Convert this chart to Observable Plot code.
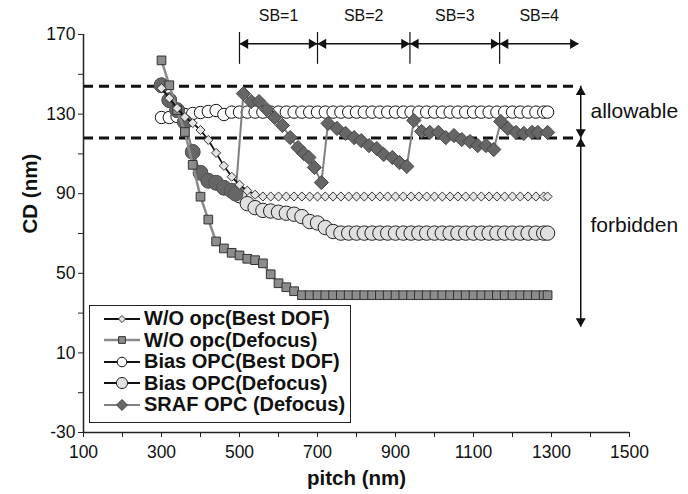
<!DOCTYPE html>
<html>
<head>
<meta charset="utf-8">
<script src="https://cdn.jsdelivr.net/npm/d3@7"></script>
<script src="https://cdn.jsdelivr.net/npm/@observablehq/plot@0.6"></script>
<style>
  body { margin: 0; background: #fff; }
  #chart { position: relative; width: 688px; height: 494px; font-family: "Liberation Sans", Arial, sans-serif; }
  #legend { position: absolute; left: 89px; top: 305px; width: 262px; height: 118px; box-sizing: border-box;
            border: 1.5px solid #222; background: #fff; padding-top: 2px; }
  .row { display: flex; align-items: center; height: 21.5px; font-weight: bold; font-size: 20px; color: #111; white-space: nowrap; }
  .row svg { margin-left: 13px; margin-right: 3px; flex: none; }
</style>
</head>
<body>
<div id="chart"><div id="legend"></div></div>
<script>
// Pitch values (nm) shared by the first four series
const pitch = [300,320,340,360,380,400,420,440,460,480,500,520,540,560,580,600,620,640,660,680,700,720,740,760,780,800,820,840,860,880,900,920,940,960,980,1000,1020,1040,1060,1080,1100,1120,1140,1160,1180,1200,1220,1240,1260,1280,1290];

// CD (nm) per series
const woOpcBest = [143,138,133,128.5,125.5,122,117,110.5,104,98.5,94.5,91.5,89.5,88.6,
  88.6,88.6,88.6,88.6,88.6,88.6,88.6,88.6,88.6,88.6,88.6,88.6,88.6,88.6,88.6,88.6,88.6,88.6,88.6,88.6,88.6,88.6,88.6,
  88.6,88.6,88.6,88.6,88.6,88.6,88.6,88.6,88.6,88.6,88.6,88.6,88.6,88.6];
const woOpcDefocus = [157,144.5,132,121,104.5,88.5,77,66,62.5,60.3,59,57.3,56.6,55,49.5,45,43,41,39,
  39,39,39,39,39,39,39,39,39,39,39,39,39,39,39,39,39,39,39,39,39,39,39,39,39,39,39,39,39,39,39,39];
const biasBest = [128.3,128.3,128.8,129.8,130.3,130.8,131.3,131.8,129.8,131,
  131,131,131,131,131,131,131,131,131,131,131,131,131,131,131,131,131,131,131,131,131,131,131,131,131,131,131,131,131,131,131,
  131,131,131,131,131,131,131,131,131,131];
const biasDefocus = [144.5,137,132,126,111,100.5,96.5,95.5,93,91.5,89,85,83,81.6,81.3,80.7,80.2,79.7,78.5,76,75.3,73,71,70.2,
  70.2,70.2,70.2,70.2,70.2,70.2,70.2,70.2,70.2,70.2,70.2,70.2,70.2,70.2,70.2,70.2,70.2,70.2,70.2,70.2,70.2,70.2,70.2,70.2,70.2,70.2,70.2];

// SRAF OPC series has its own pitch sampling
const srafPitch = [300,320,340,360,380,400,420,440,460,480,490,
  510,530,550,570,590,610,630,650,665,678,692,710,
  727,750,772,794,812,832,852,870,892,910,929,
  947,967,988,1010,1029,1050,1070,1091,1111,1132,1152,
  1170,1188,1209,1229,1250,1265,1290];
const srafDefocus = [144.5,137,132,126,111,100.5,96.5,95.5,93,91.5,90,
  140.3,136.3,136.3,132.3,128.3,124.3,118.2,113.2,110.2,108.2,103.2,95.6,
  125.3,122.8,120.3,118.2,116.7,114.2,112.7,109.7,108.2,105.7,103.7,
  126.8,121.3,120.8,120.8,118.2,119.2,117.2,116.2,114.2,114.2,112.2,
  126.3,122.8,120.8,120.3,120.8,120.8,120.8];
const sbStart = 500; // pitch where scattering bars begin

// Tolerance limits and annotation values
const cdLimits = [144, 118];
const limitSpan = [100, 1357];
const sbBounds = [500, 700, 937, 1167, 1370];
const sbLabels = ["SB=1", "SB=2", "SB=3", "SB=4"];
const sbArrowY = 165.3;
const sbTickRange = [155, 171];
const zoneLabels = ["allowable", "forbidden"];
const zoneLo = [118, 23];
const zoneHi = [144, 118];
const zoneLabelY = [131.5, 74];
const zoneArrowX = 1375;
const zoneLabelX = 1400;

// Axis ticks
const xMajor = [100,300,500,700,900,1100,1300,1500];
const xMinor = [200,400,600,800,1000,1200,1400];
const yMajor = [-30,10,50,90,130,170];
const yMinor = [-10,30,70,110,150];

const rows = (xs, ys) => xs.map((x, i) => ({pitch: x, cd: ys[i]}));

const series = [
  {name: "W/O opc(Best DOF)", data: rows(pitch, woOpcBest), line: "#111", lw: 1.8, symbol: "diamond2", r: 4.1, fill: "#e4e4e4", stroke: "#333"},
  {name: "W/O opc(Defocus)", data: rows(pitch, woOpcDefocus), line: "#8a8a8a", lw: 2.5, symbol: "square", r: 4.9, fill: "#8c8c8c", stroke: "#333"},
  {name: "Bias OPC(Best DOF)", data: rows(pitch, biasBest), line: "#111", lw: 2, symbol: "circle", r: 6.2, fill: "#fff", stroke: "#111"},
  {name: "Bias OPC(Defocus)", data: rows(pitch, biasDefocus), line: "#111", lw: 1.5, symbol: "circle", r: 7.2, fill: "#e0e0e0", stroke: "#222"},
  {name: "SRAF OPC (Defocus)", data: rows(srafPitch, srafDefocus), line: "#808080", lw: 2, symbol: "diamond2", r: 6.4, fill: "#666", stroke: "#444"}
];
const [woBestS, woDefS, biasBestS, biasDefS, srafS] = series;

const lineOf = s => Plot.line(s.data, {x: "pitch", y: "cd", stroke: s.line, strokeWidth: s.lw});
const dotsOf = (s, extra = {}) => Plot.dot(s.data, {x: "pitch", y: "cd", symbol: s.symbol, r: s.r, fill: s.fill, stroke: s.stroke, strokeWidth: 1, ...extra});

const sbSegments = sbBounds.slice(0, -1).map((b, i) => ({x1: b, x2: sbBounds[i + 1], label: sbLabels[i]}));
const zones = zoneLabels.map((label, i) => ({label, lo: zoneLo[i], hi: zoneHi[i], y: zoneLabelY[i]}));

// Filled arrowheads drawn as rotated triangles, tip placed on the end point
const tip = 5.8;
const head = (data, opts) => Plot.dot(data, {symbol: "triangle2", r: 4.8, fill: "#111", stroke: "none", ...opts});
const plain = d => String(d);

const plot = Plot.plot({
  width: 688,
  height: 494,
  marginLeft: 83,
  marginRight: 59,
  marginTop: 34,
  marginBottom: 62,
  style: {fontFamily: "'Liberation Sans', Arial, sans-serif", fontSize: "17.5px", color: "#111", background: "#fff", overflow: "visible"},
  x: {domain: [100, 1500], label: null},
  y: {domain: [-30, 170], label: null},
  marks: [
    // tolerance band
    Plot.ruleY(cdLimits, {x1: limitSpan[0], x2: limitSpan[1], stroke: "#111", strokeWidth: 3, strokeDasharray: "10,6"}),

    // series, back to front
    lineOf(biasBestS), dotsOf(biasBestS),
    lineOf(biasDefS), dotsOf(biasDefS),
    lineOf(srafS),
    dotsOf(srafS, {filter: d => d.pitch < sbStart, symbol: "circle", r: 7.4, fill: "#666", stroke: "#555"}),
    dotsOf(srafS, {filter: d => d.pitch >= sbStart}),
    lineOf(woDefS), dotsOf(woDefS),
    lineOf(woBestS), dotsOf(woBestS),

    // scattering-bar regions
    Plot.ruleX(sbBounds.slice(0, -1), {y1: sbTickRange[0], y2: sbTickRange[1], stroke: "#111", strokeWidth: 1.2}),
    Plot.ruleY([sbArrowY], {x1: sbBounds[0], x2: sbBounds[sbBounds.length - 1], stroke: "#111", strokeWidth: 1.5}),
    head(sbSegments, {x: "x2", y: () => sbArrowY, rotate: 90, dx: -tip}),
    head(sbSegments, {x: "x1", y: () => sbArrowY, rotate: -90, dx: tip}),
    Plot.text(sbSegments, {x: d => (d.x1 + d.x2) / 2, y: () => 179.5, text: "label", fontSize: 16, fill: "#111"}),

    // allowable / forbidden ranges
    Plot.ruleX(zones, {x: () => zoneArrowX, y1: "lo", y2: "hi", stroke: "#111", strokeWidth: 1.5}),
    head(zones, {x: () => zoneArrowX, y: "hi", rotate: 0, dy: tip}),
    head(zones, {x: () => zoneArrowX, y: "lo", rotate: 180, dy: -tip}),
    Plot.text(zones, {x: () => zoneLabelX, y: "y", text: "label", textAnchor: "start", fontSize: 21, fill: "#111"}),

    // axes
    Plot.axisX(xMajor, {tickSize: 5, tickPadding: 8, fontSize: 17.5, tickFormat: plain, stroke: "#222", label: null}),
    Plot.axisX(xMinor, {tickSize: 5, tickFormat: () => "", stroke: "#222", label: null}),
    Plot.axisY(yMajor, {tickSize: 5, tickPadding: 3, fontSize: 17.5, tickFormat: plain, stroke: "#222", label: null}),
    Plot.axisY(yMinor, {tickSize: 5, tickFormat: () => "", stroke: "#222", label: null}),
    Plot.ruleY([-30], {x1: 100, x2: 1500, stroke: "#222", strokeWidth: 1.5}),
    Plot.ruleX([100], {y1: -30, y2: 170, stroke: "#222", strokeWidth: 1.5}),
    Plot.text(["pitch (nm)"], {frameAnchor: "bottom", lineAnchor: "middle", dy: 46, fontWeight: "bold", fontSize: 20.5, fill: "#111"}),
    Plot.text(["CD (nm)"], {frameAnchor: "left", lineAnchor: "middle", dx: -53, rotate: -90, fontWeight: "bold", fontSize: 20.5, fill: "#111"})
  ]
});
plot.style.position = "absolute";
plot.style.left = "0";
plot.style.top = "0";
const chart = document.getElementById("chart");
chart.insertBefore(plot, chart.firstChild);

// Legend inside the plot area
const symbolTypes = {circle: d3.symbolCircle, square: d3.symbolSquare, diamond2: d3.symbolDiamond2};
const legend = d3.select("#legend");
series.forEach(s => {
  const row = legend.append("div").attr("class", "row");
  const sw = row.append("svg").attr("width", 38).attr("height", 20);
  sw.append("line").attr("x1", 1).attr("x2", 37).attr("y1", 10).attr("y2", 10)
    .attr("stroke", s.line).attr("stroke-width", Math.max(2, s.lw));
  sw.append("path").attr("transform", "translate(19,10)")
    .attr("d", d3.symbol(symbolTypes[s.symbol], Math.PI * s.r * s.r * 0.6)())
    .attr("fill", s.fill).attr("stroke", s.stroke).attr("stroke-width", 1);
  row.append("span").text(s.name);
});
</script>
</body>
</html>
